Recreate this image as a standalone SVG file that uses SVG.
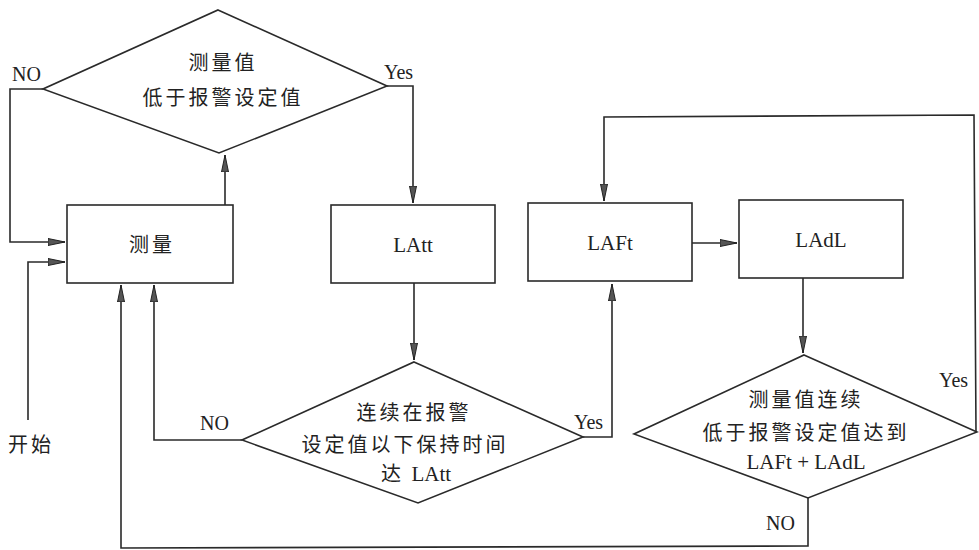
<svg xmlns="http://www.w3.org/2000/svg" width="979" height="550" viewBox="0 0 979 550">
<style>
.s{fill:none;stroke:#2a2a2a;stroke-width:1.6}
.n{fill:#fff;stroke:#2a2a2a;stroke-width:1.6}
.cn{font-family:"Noto Sans CJK SC","Noto Sans CJK JP",sans-serif;font-size:20px;fill:#222;letter-spacing:3px}
.en{font-family:"Liberation Serif","Times New Roman",serif;font-size:21px;fill:#222;letter-spacing:0}
.lb{font-family:"Liberation Serif","Times New Roman",serif;font-size:20px;fill:#222}
</style>
<defs>
<marker id="ah" markerUnits="userSpaceOnUse" markerWidth="18" markerHeight="10" refX="17" refY="4" orient="auto">
<path d="M0,0.5 L17,4 L0,7.5 z" fill="#555" stroke="#222" stroke-width="1"/>
</marker>
</defs>
<rect width="979" height="550" fill="#fff"/>
<g id="connectors">
<polyline class="s" points="43,89 10,89 10,242 65,242" marker-end="url(#ah)"/>
<polyline class="s" points="28,420 28,262 65,262" marker-end="url(#ah)"/>
<polyline class="s" points="225,205 225,155" marker-end="url(#ah)"/>
<polyline class="s" points="387,86 413,86 413,203" marker-end="url(#ah)"/>
<polyline class="s" points="414,283 414,360" marker-end="url(#ah)"/>
<polyline class="s" points="242,440 154,440 154,285" marker-end="url(#ah)"/>
<polyline class="s" points="583,437 612,437 612,284" marker-end="url(#ah)"/>
<polyline class="s" points="692,243 737,243" marker-end="url(#ah)"/>
<polyline class="s" points="803,278 803,353" marker-end="url(#ah)"/>
<polyline class="s" points="976,432 974,115 604,117 604,201" marker-end="url(#ah)"/>
<polyline class="s" points="808,498 808,546 121,548 121,285" marker-end="url(#ah)"/>
<text class="lb" x="12" y="81">NO</text>
<text class="lb" x="384" y="79">Yes</text>
<text class="lb" x="200" y="430">NO</text>
<text class="lb" x="574" y="429">Yes</text>
<text class="lb" x="939" y="387">Yes</text>
<text class="lb" x="766" y="530">NO</text>
</g>
<g id="d1">
<polygon class="n" points="218,10 387,86 219,153 43,89"/>
<text class="cn" x="223" y="70" text-anchor="middle">测量值</text>
<text class="cn" x="223" y="105" text-anchor="middle">低于报警设定值</text>
</g>
<g id="measure">
<rect class="n" x="67" y="205" width="166" height="78"/>
<text class="cn" x="152" y="252" text-anchor="middle">测量</text>
</g>
<g id="latt">
<rect class="n" x="331" y="205" width="164" height="78"/>
<text class="en" x="413" y="252" text-anchor="middle">LAtt</text>
</g>
<g id="laft">
<rect class="n" x="528" y="203" width="164" height="78"/>
<text class="en" x="610" y="250" text-anchor="middle">LAFt</text>
</g>
<g id="ladl">
<rect class="n" x="739" y="200" width="164" height="78"/>
<text class="en" x="821" y="247" text-anchor="middle">LAdL</text>
</g>
<g id="d2">
<polygon class="n" points="414,362 583,437 418,503 242,440"/>
<text class="cn" x="414" y="420" text-anchor="middle">连续在报警</text>
<text class="cn" x="405" y="452" text-anchor="middle">设定值以下保持时间</text>
<text class="cn" x="416" y="481" text-anchor="middle">达 <tspan class="en">LAtt</tspan></text>
</g>
<g id="d3">
<polygon class="n" points="804,355 977,432 808,498 634,434"/>
<text class="cn" x="806" y="407" text-anchor="middle">测量值连续</text>
<text class="cn" x="806" y="440" text-anchor="middle">低于报警设定值达到</text>
<text class="en" x="806" y="469" text-anchor="middle">LAFt + LAdL</text>
</g>
<g id="start">
<text class="cn" x="8" y="452">开始</text>
</g>
</svg>
